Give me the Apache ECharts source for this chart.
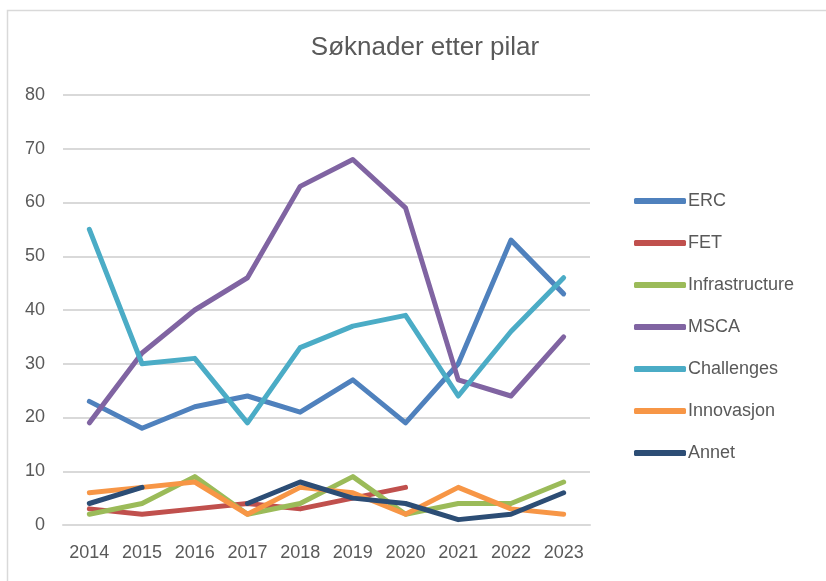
<!DOCTYPE html>
<html>
<head>
<meta charset="utf-8">
<script src="https://cdn.jsdelivr.net/npm/echarts@6/dist/echarts.min.js"></script>
<style>html,body{margin:0;padding:0;background:#fff}#c{width:826px;height:581px}</style>
</head>
<body>
<div id="c"></div>
<script>
const years = ['2014','2015','2016','2017','2018','2019','2020','2021','2022','2023'];
const yTicks = [0,10,20,30,40,50,60,70,80];
const erc = [23,18,22,24,21,27,19,30,53,43];
const fet = [3,2,3,4,3,5,7,null,null,null];
const infrastructure = [2,4,9,2,4,9,2,4,4,8];
const msca = [19,32,40,46,63,68,59,27,24,35];
const challenges = [55,30,31,19,33,37,39,24,36,46];
const innovasjon = [6,7,8,2,7,6,2,7,3,2];
const annet = [4,7,null,4,8,5,4,1,2,6];

const seriesNames = ['ERC','FET','Infrastructure','MSCA','Challenges','Innovasjon','Annet'];
const seriesData = [erc,fet,infrastructure,msca,challenges,innovasjon,annet];
const colors = ['#4F81BD','#C0504D','#9BBB59','#8064A2','#4BACC6','#F79646','#2C4D75'];

const font = '"Liberation Sans", Arial, sans-serif';
const chart = echarts.init(document.getElementById('c'), null, {renderer:'canvas'});
chart.setOption({
  animation: false,
  backgroundColor: '#ffffff',
  color: colors,
  graphic: [{
    type: 'rect', left: 5, top: 8, silent: true,
    shape: {x:0, y:0, width: 900, height: 900},
    style: {fill: 'none', stroke: '#d9d9d9', lineWidth: 1.5}
  }],
  title: {
    text: 'Søknader etter pilar',
    left: 420, top: 30, textAlign: 'center',
    textStyle: {fontFamily: font, fontSize: 26, fontWeight: 'normal', color: '#595959'}
  },
  legend: {
    orient: 'vertical', left: 629, top: 187,
    itemWidth: 52, itemHeight: 6, itemGap: 24, icon: 'roundRect',
    textStyle: {fontFamily: font, fontSize: 18, color: '#595959', lineHeight: 18, padding: [0,0,0,-3]},
    data: seriesNames
  },
  grid: {left: 63, right: 236, top: 95, bottom: 56},
  xAxis: {
    type: 'category', data: years, boundaryGap: true,
    axisLine: {lineStyle: {color: '#d9d9d9', width: 2}},
    axisTick: {show: false},
    axisLabel: {fontFamily: font, fontSize: 18, color: '#595959', margin: 19}
  },
  yAxis: {
    type: 'value', min: yTicks[0], max: yTicks[yTicks.length-1], interval: 10,
    axisLine: {show: false}, axisTick: {show: false},
    splitLine: {lineStyle: {color: '#d9d9d9', width: 2}},
    axisLabel: {fontFamily: font, fontSize: 18, color: '#595959', margin: 18}
  },
  series: seriesNames.map((n, i) => ({
    name: n, type: 'line', data: seriesData[i],
    showSymbol: false, symbol: 'none', connectNulls: false,
    lineStyle: {width: 5, color: colors[i], cap: 'round', join: 'round'},
    itemStyle: {color: colors[i]}
  }))
});
</script>
</body>
</html>
